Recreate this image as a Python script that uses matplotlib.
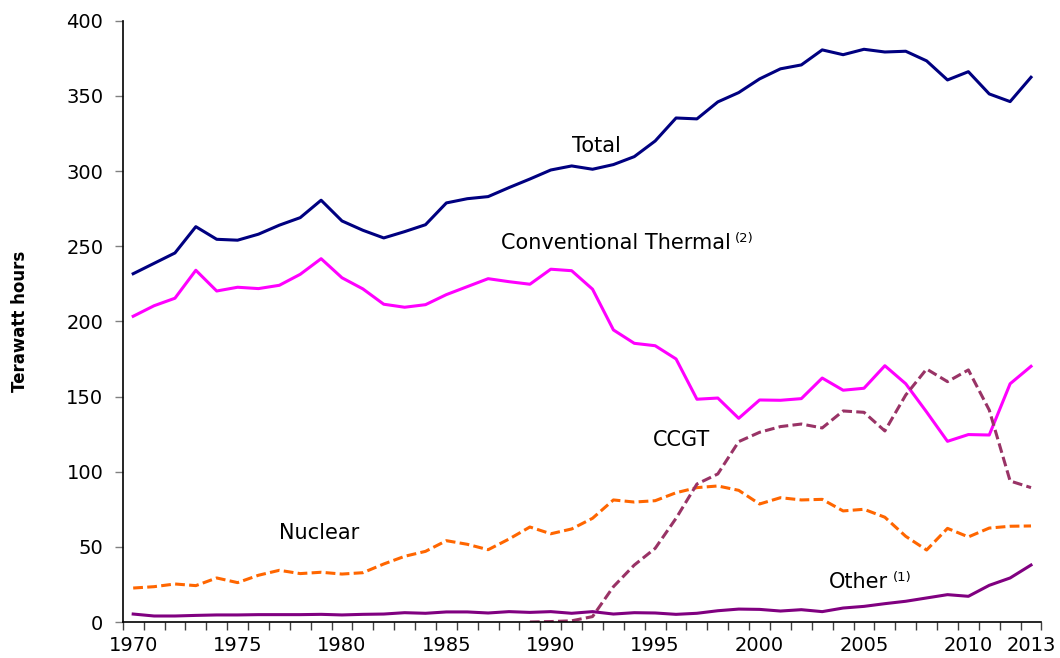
import numpy as np
import matplotlib
matplotlib.use("Agg")
import matplotlib.pyplot as plt

plt.rcParams['font.family'] = ['DejaVu Sans']

years = list(range(1970, 2014))

total = [231.7, 238.6, 245.5, 263.0, 254.6, 254.0, 258.0, 264.0, 269.0, 280.6,
         266.8, 260.6, 255.5, 259.7, 264.3, 278.8, 281.6, 283.0, 289.0, 294.7,
         300.7, 303.4, 301.2, 304.3, 309.6, 320.0, 335.3, 334.7, 346.0, 352.2,
         361.3, 368.0, 370.6, 380.6, 377.4, 381.0, 379.2, 379.7, 373.3, 360.6,
         366.1, 351.3, 346.2, 362.4]

conventional = [203.4, 210.4, 215.4, 234.0, 220.2, 222.7, 221.8, 224.0, 231.3, 241.7,
                229.0, 221.6, 211.4, 209.4, 211.1, 217.8, 223.1, 228.4, 226.4, 224.7,
                234.7, 233.7, 221.4, 194.3, 185.4, 183.8, 175.0, 148.2, 149.0, 135.5,
                147.7, 147.5, 148.6, 162.3, 154.2, 155.5, 170.5, 158.5, 139.7, 120.2,
                124.7, 124.4, 158.5, 170.1]

nuclear = [22.6, 23.5, 25.3, 24.2, 29.3, 26.2, 31.1, 34.4, 32.2, 33.1,
           31.9, 32.8, 38.6, 43.7, 47.0, 54.1, 51.7, 48.1, 55.2, 63.2,
           58.7, 61.9, 69.0, 81.2, 79.8, 80.7, 86.0, 89.4, 90.5, 87.6,
           78.5, 82.7, 81.2, 81.6, 73.9, 75.0, 69.7, 57.0, 47.9, 62.3,
           56.6, 62.5, 63.7, 63.9]

ccgt_years = list(range(1989, 2014))
ccgt = [0.0, 0.3, 0.8, 3.6, 23.5, 37.9, 49.0, 69.0, 91.8, 98.5,
        120.0, 126.2, 130.0, 131.7, 129.1, 140.4, 139.5, 127.1, 151.0, 168.3,
        159.9, 167.7, 141.0, 93.8, 89.4]

other = [5.3, 4.0, 4.0, 4.4, 4.7, 4.7, 4.9, 4.9, 4.9, 5.1,
         4.7, 5.1, 5.3, 6.2, 5.8, 6.7, 6.7, 6.0, 6.9, 6.4,
         6.9, 5.8, 6.9, 5.3, 6.2, 6.0, 5.1, 5.8, 7.5, 8.6,
         8.4, 7.3, 8.2, 6.9, 9.3, 10.4, 12.2, 13.8, 16.0, 18.2,
         17.1, 24.4, 29.3, 37.9]

tick_years = [1970, 1975, 1980, 1985, 1990, 1995, 2000, 2005, 2010, 2013]

fig = plt.figure(figsize=(10.6, 6.58), dpi=100)
ax = fig.add_axes([0.1158, 0.0547, 0.8667, 0.9138])

lw = 2.2
ax.plot(years, total, color='#000080', lw=lw)
ax.plot(years, conventional, color='#FF00FF', lw=lw)
ax.plot(years, nuclear, color='#FF6600', lw=lw, dashes=(3.2, 1.4))
ax.plot(ccgt_years, ccgt, color='#993366', lw=lw, dashes=(3.2, 1.4))
ax.plot(years, other, color='#800080', lw=lw)

ax.set_xlim(1969.5, 2013.5)
ax.set_ylim(0, 400)
ax.set_yticks(np.arange(0, 401, 50))
ax.set_xticks(tick_years)
ax.set_xticks(np.arange(1969.5, 2014, 1), minor=True)
ax.tick_params(axis='x', which='major', length=0, pad=10, labelsize=14)
ax.tick_params(axis='x', which='minor', length=6, width=1, color='#404040')
ax.tick_params(axis='y', length=6, width=1, color='#808080', pad=8, labelsize=14)

for s in ['top', 'right']:
    ax.spines[s].set_visible(False)
for s in ['left', 'bottom']:
    ax.spines[s].set_linewidth(1.2)

ax.set_ylabel('Terawatt hours', fontsize=12, fontweight='bold', labelpad=27)

fs = 15
def label(x, y, txt, sup=None):
    t = ax.text(x, y, txt, fontsize=fs, ha='left', va='center')
    if sup:
        ax.annotate(sup, xy=(1, 1), xycoords=t, xytext=(3, 1),
                    textcoords='offset points', fontsize=9.5, ha='left', va='top')

label(1991.03, 316.7, 'Total')
label(1987.63, 252.2, 'Conventional Thermal', '(2)')
label(1994.89, 121.1, 'CCGT')
label(1977.0, 59.2, 'Nuclear')
label(2003.33, 26.6, 'Other', '(1)')

fig.savefig('out.png', dpi=100)
